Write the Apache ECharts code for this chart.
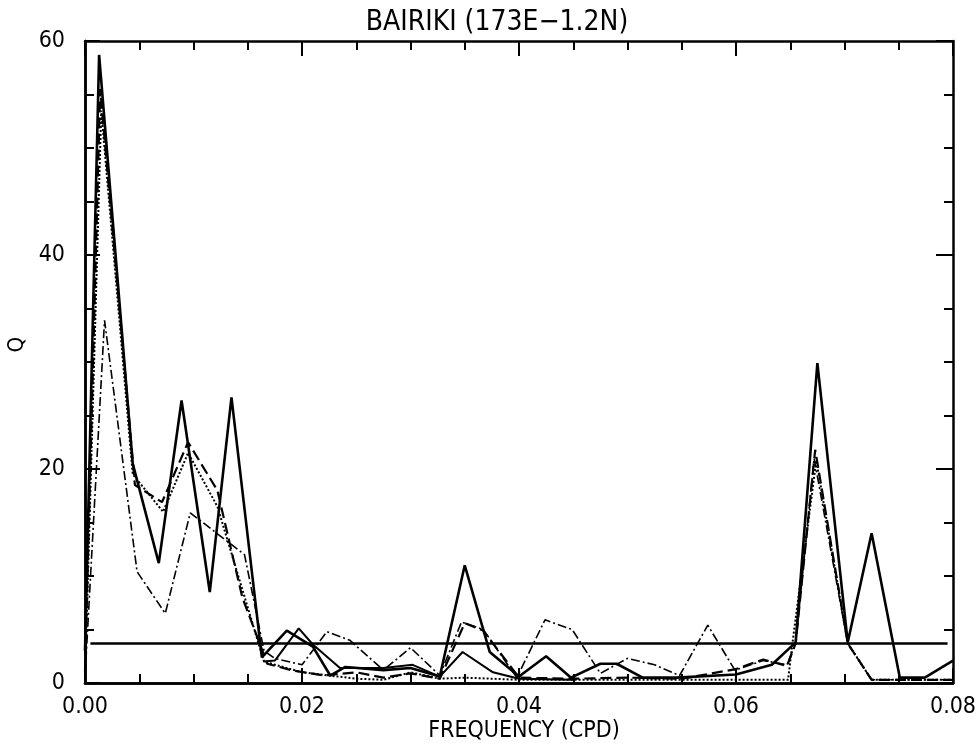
<!DOCTYPE html>
<html>
<head>
<meta charset="utf-8">
<script src="https://cdn.jsdelivr.net/npm/echarts@6/dist/echarts.min.js"></script>
<style>
  html, body { margin: 0; padding: 0; background: #fff; }
  #chart { width: 980px; height: 743px; }
</style>
</head>
<body>
<div id="chart"></div>
<script>
// values, [frequency (cpd), value]
const solidThick = [
  [0, 3], [0.0013, 58.7], [0.0044, 20.5], [0.0068, 11.2], [0.0089, 26.4], [0.0115, 8.5],
  [0.0135, 26.7], [0.0163, 2.4], [0.0186, 4.9], [0.021, 3.4], [0.0226, 0.7], [0.024, 1.5],
  [0.0275, 1.2], [0.030, 1.4], [0.0327, 0.6], [0.035, 11.0], [0.0373, 2.9], [0.040, 0.6],
  [0.0425, 2.5], [0.0448, 0.5], [0.0475, 1.8], [0.049, 1.8], [0.0514, 0.5], [0.0545, 0.5],
  [0.060, 0.8], [0.0633, 1.7], [0.0655, 3.8], [0.0675, 29.9], [0.0703, 3.8], [0.0725, 14.0],
  [0.0751, 0.5], [0.0774, 0.5], [0.080, 2.1]
]
const solidThin = [
  [0.0165, 2.0], [0.0175, 2.1], [0.0197, 5.1], [0.021, 3.6], [0.0235, 1.4], [0.0275, 1.4],
  [0.0302, 1.7], [0.0327, 0.6], [0.0348, 2.9], [0.0376, 1.0], [0.040, 0.4], [0.045, 0.3]
]
const dashed = [
  [0, 1], [0.0014, 55.5], [0.0046, 18.5], [0.0071, 16.9], [0.0095, 22.5], [0.0122, 18.0],
  [0.0145, 8.0], [0.0168, 1.8], [0.019, 1.2], [0.022, 0.7], [0.025, 1.0], [0.0275, 0.5],
  [0.030, 0.9], [0.0327, 0.4], [0.035, 5.6], [0.0367, 4.9], [0.040, 0.5], [0.045, 0.4],
  [0.050, 0.5], [0.055, 0.4], [0.060, 1.3], [0.0625, 2.2], [0.0647, 1.6], [0.0655, 3.7],
  [0.0673, 21.8], [0.0703, 3.7], [0.0725, 0.3], [0.080, 0.3]
]
const dashDot = [
  [0, 0.5], [0.0018, 33.9], [0.0048, 10.4], [0.0074, 6.5], [0.0097, 15.9], [0.0147, 12.0],
  [0.0165, 3.0], [0.0175, 2.3], [0.020, 1.7], [0.0223, 4.8], [0.0244, 4.0], [0.0275, 1.2],
  [0.030, 3.3], [0.0327, 0.7], [0.0347, 5.7], [0.0367, 5.0], [0.0398, 0.5], [0.0424, 5.9],
  [0.0449, 5.0], [0.0475, 0.9], [0.050, 2.3], [0.0525, 1.7], [0.0548, 0.7], [0.0574, 5.4],
  [0.0599, 1.2], [0.0625, 2.1], [0.0647, 1.7], [0.0655, 3.7], [0.0672, 21.0], [0.0703, 3.7],
  [0.0725, 0.3], [0.080, 0.3]
]
const dotted = [
  [0, 0.3], [0.0015, 53.5], [0.0044, 19.5], [0.0072, 16.0], [0.0095, 21.5], [0.0122, 16.5],
  [0.0165, 2.0], [0.020, 1.0], [0.025, 0.4], [0.0275, 0.3], [0.030, 1.0], [0.0327, 0.4],
  [0.035, 0.5], [0.040, 0.3], [0.045, 0.3], [0.050, 0.3], [0.055, 0.3], [0.060, 0.3],
  [0.0648, 0.3], [0.0652, 3.7], [0.0674, 20.8], [0.0703, 3.7], [0.0725, 0.3], [0.080, 0.3]
]
// significance level
const levelLine = [[0.0005, 3.7], [0.0795, 3.7]]

const FONT = "'Liberation Sans Narrow', 'DejaVu Sans Condensed', 'Liberation Sans', sans-serif"

const chart = echarts.init(document.getElementById('chart'))

// frame axis: long ticks on labelled values, short minor ticks in between, all pointing inward
const frame = (majorLen, minorLen, onZero) => ({
  axisLine: { show: true, onZero: onZero, lineStyle: { color: '#000', width: 2.5 } },
  axisTick: { show: true, inside: true, length: majorLen, lineStyle: { color: '#000', width: 2 } },
  minorTick: { show: true, splitNumber: 4, length: minorLen, lineStyle: { color: '#000', width: 2 } },
  splitLine: { show: false },
  minorSplitLine: { show: false }
})

const line = (data, width, type) => ({
  type: 'line',
  data: data,
  showSymbol: false,
  clip: true,
  silent: true,
  lineStyle: { color: '#000', width: width, type: type }
})

const textStyle = size => ({ fontFamily: FONT, fontSize: size, fontWeight: 'normal', color: '#000' })

const plotBox = { left: 85, right: 27, top: 41, bottom: 60, outerBoundsMode: 'none', containLabel: false }

chart.setOption({
  animation: false,
  backgroundColor: '#fff',
  title: [
    { text: 'BAIRIKI (173E\u22121.2N)', left: 492, top: 4, textAlign: 'center', textStyle: textStyle(28) },
    { text: 'FREQUENCY (CPD)', left: 519, top: 715, textAlign: 'center', textStyle: textStyle(23) }
  ],
  graphic: [{
    type: 'text', left: 6, top: 337, rotation: Math.PI / 2,
    style: { text: 'Q', font: "22px 'Liberation Sans Narrow', 'DejaVu Sans Condensed', sans-serif", fill: '#000' }
  }],
  // second grid on the same box only carries the inward ticks of the bottom and left edges
  grid: [plotBox, plotBox],
  xAxis: [
    {
      ...frame(15, 9, true),
      type: 'value', position: 'bottom', min: 0, max: 0.08, interval: 0.02,
      axisLabel: {
        margin: 13, color: '#000', fontFamily: FONT, fontSize: 23,
        formatter: v => v.toFixed(2)
      }
    },
    {
      ...frame(15, 9, false),
      type: 'value', position: 'top', min: 0, max: 0.08, interval: 0.02,
      axisLabel: { show: false }
    },
    {
      ...frame(15, 9, false),
      gridIndex: 1, type: 'value', position: 'bottom', min: 0, max: 0.08, interval: 0.02,
      axisLabel: { show: false }
    }
  ],
  yAxis: [
    {
      ...frame(15, 9, true),
      type: 'value', position: 'left', min: 0, max: 60, interval: 20,
      axisLabel: { margin: 20, color: '#000', fontFamily: FONT, fontSize: 23 }
    },
    {
      ...frame(17, 9, false),
      type: 'value', position: 'right', min: 0, max: 60, interval: 20,
      axisLabel: { show: false }
    },
    {
      ...frame(15, 9, false),
      gridIndex: 1, type: 'value', position: 'left', min: 0, max: 60, interval: 20,
      axisLabel: { show: false }
    }
  ],
  series: [
    line(levelLine, 2.5, 'solid'),
    line(dotted, 2, [2, 2]),
    line(dashDot, 1.6, [9, 3, 2, 3]),
    line(dashed, 2.2, [11, 5]),
    line(solidThin, 2, 'solid'),
    line(solidThick, 2.6, 'solid')
  ]
})
</script>
</body>
</html>
